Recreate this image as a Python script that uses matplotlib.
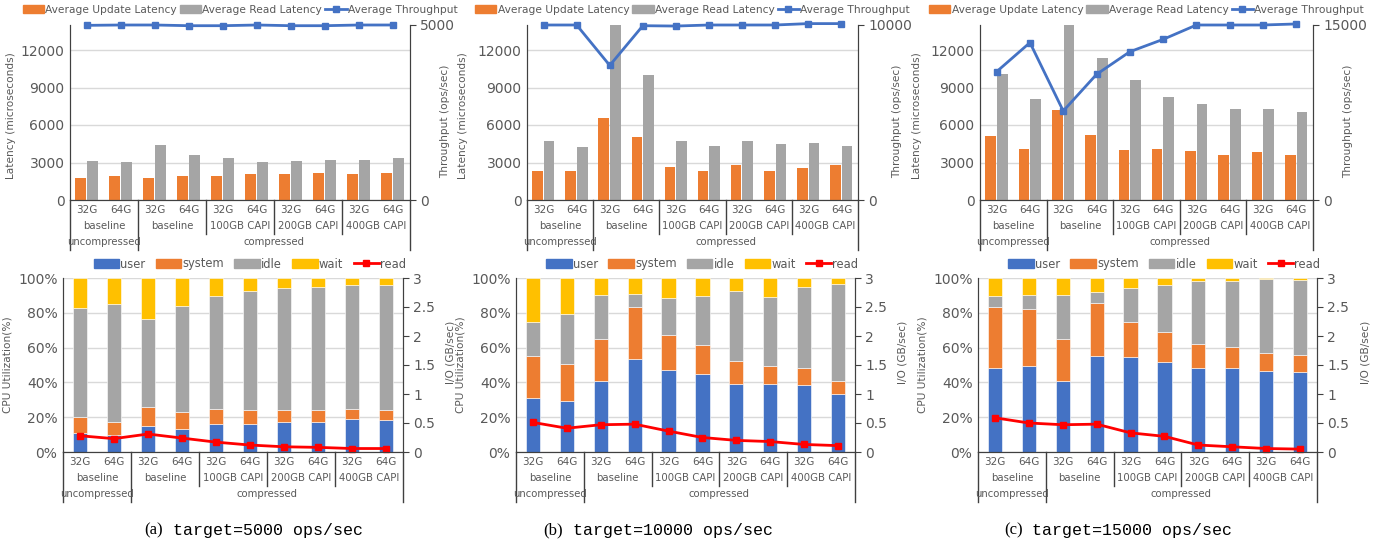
import numpy as np
import matplotlib
matplotlib.use("Agg")
import matplotlib.pyplot as plt
from matplotlib.lines import Line2D
from matplotlib.patches import Patch

plt.rcParams['font.family'] = ['DejaVu Sans']

# categories
sizes = ['32G', '64G'] * 5
groups = ['baseline', 'baseline', '100GB CAPI', '200GB CAPI', '400GB CAPI']
modes = ['uncompressed', 'compressed']
captions = ['(a)', '(b)', '(c)']
targets = ['target=5000 ops/sec', 'target=10000 ops/sec', 'target=15000 ops/sec']

# latency (microseconds) and throughput (ops/sec)
update_a = [1800, 1950, 1800, 1950, 1950, 2050, 2050, 2150, 2050, 2150]
read_a = [3100, 3050, 4400, 3600, 3350, 3050, 3100, 3200, 3200, 3350]
thr_a = [4990, 5000, 5000, 4980, 4980, 5000, 4980, 4980, 5000, 5000]

update_b = [2360, 2360, 6560, 5060, 2620, 2360, 2810, 2360, 2550, 2810]
read_b = [4710, 4230, 14000, 9990, 4710, 4310, 4710, 4470, 4530, 4300]
thr_b = [10000, 10000, 7690, 9960, 9940, 10000, 10000, 10000, 10080, 10080]

update_c = [5120, 4100, 7230, 5200, 4020, 4100, 3940, 3620, 3860, 3620]
read_c = [10070, 8090, 14200, 11380, 9640, 8225, 7710, 7310, 7310, 7045]
thr_c = [11000, 13490, 7630, 10770, 12710, 13770, 15000, 15000, 15000, 15090]

thr_max = [5000, 10000, 15000]

# CPU utilization (%) and read I/O (GB/sec)
user_a = [11, 9.6, 15, 13, 16.3, 16.3, 17.5, 17.5, 18.7, 18.3]
system_a = [9, 7.7, 11, 10, 8.5, 7.9, 6.7, 6.7, 6.1, 5.9]
idle_a = [62.7, 67.9, 50.5, 61, 64.6, 68.3, 70, 70.6, 71.2, 71.8]
wait_a = [17.3, 14.8, 23.5, 16, 10.6, 7.5, 5.8, 5.2, 4, 4]
io_a = [0.28, 0.23, 0.31, 0.24, 0.17, 0.12, 0.09, 0.08, 0.06, 0.06]

user_b = [31, 29.4, 41, 53.7, 47.1, 45, 39.2, 39.2, 38.7, 33.1]
system_b = [24.4, 21.4, 23.8, 29.6, 20.4, 16.5, 12.9, 10.4, 9.8, 7.9]
idle_b = [19.6, 28.4, 25.2, 7.5, 20.8, 27.9, 40.4, 39.2, 46.3, 55.3]
wait_b = [25, 20.8, 10, 9.2, 11.7, 10.6, 7.5, 11.2, 5.2, 3.7]
io_b = [0.51, 0.41, 0.47, 0.48, 0.36, 0.25, 0.20, 0.18, 0.13, 0.11]

user_c = [48, 49.6, 40.6, 55.4, 54.8, 51.7, 48, 48, 46.7, 46.2]
system_c = [35.5, 32.5, 24.2, 30.4, 20.2, 17, 14.3, 12.6, 10.4, 9.4]
idle_c = [5.9, 8.1, 25.2, 5.9, 19.2, 27.5, 35.7, 37.4, 42.1, 43.1]
wait_c = [10.6, 9.8, 10, 8.3, 5.8, 3.8, 2, 2, 0.8, 1.3]
io_c = [0.59, 0.50, 0.47, 0.48, 0.33, 0.27, 0.12, 0.09, 0.06, 0.05]

BLUE = '#4472C4'
ORANGE = '#ED7D31'
GRAY = '#A5A5A5'
YELLOW = '#FFC000'
RED = '#FF0000'
TXT = '#595959'
GRID = '#D9D9D9'

W, H = 1385, 548
fig = plt.figure(figsize=(W / 100, H / 100), dpi=100)


def rect(x0, x1, y0, y1):
    return [x0 / W, 1 - y1 / H, (x1 - x0) / W, (y1 - y0) / H]


def style(ax, ax2):
    ax.set_xlim(-0.5, 9.5)
    ax.set_xticks([])
    ax.set_axisbelow(True)
    ax.yaxis.grid(True, color=GRID, lw=1)
    for a in (ax, ax2):
        a.spines['top'].set_visible(False)
        a.spines['left'].set_color('#404040')
        a.spines['right'].set_color('#404040')
        a.spines['bottom'].set_color('#404040')
    ax.tick_params(axis='y', length=0, labelsize=10, labelcolor=TXT, pad=4)
    ax2.tick_params(axis='y', length=4, direction='out', color='#404040',
                    labelsize=10, labelcolor=TXT)


def cat_axis(ax, h):
    tr = ax.get_xaxis_transform()
    for i, s in enumerate(sizes):
        ax.text(i, -10 / h, s, transform=tr, ha='center', va='center',
                fontsize=7.5, color=TXT)
    for j, g in enumerate(groups):
        ax.text(2 * j + 0.5, -26 / h, g, transform=tr, ha='center', va='center',
                fontsize=7.3, color=TXT)
    ax.text(0.5, -42 / h, modes[0], transform=tr, ha='center', va='center',
            fontsize=7.3, color=TXT)
    ax.text(5.5, -42 / h, modes[1], transform=tr, ha='center', va='center',
            fontsize=7.3, color=TXT)
    for xv in (-0.5, 1.5, 9.5):
        ax.plot([xv, xv], [0, -50 / h], transform=tr, color='#404040',
                lw=1, clip_on=False)
    for xv in (3.5, 5.5, 7.5):
        ax.plot([xv, xv], [0, -34 / h], transform=tr, color='#404040',
                lw=1, clip_on=False)


x = np.arange(10)

# ---- top row: latency + throughput
top_x = [(70, 410), (527, 858), (980, 1313)]
top_lab = [(-0.16, 1.088), (-0.178, 1.103), (-0.174, 1.09)]
top_data = [(update_a, read_a, thr_a), (update_b, read_b, thr_b),
            (update_c, read_c, thr_c)]
for k, ((x0, x1), (upd, rd, thr)) in enumerate(zip(top_x, top_data)):
    ax = fig.add_axes(rect(x0, x1, 25, 200))
    ax.bar(x - 0.18, upd, 0.32, color=ORANGE)
    ax.bar(x + 0.17, rd, 0.32, color=GRAY)
    ax.set_ylim(0, 14000)
    ax.set_yticks(range(0, 14000, 3000))
    ax.set_ylabel('Latency (microseconds)', fontsize=7.6, color=TXT)
    ax.yaxis.set_label_coords(top_lab[k][0], 0.48)
    ax2 = ax.twinx()
    ax2.plot(x, thr, color=BLUE, lw=2, marker='s', ms=4.5, clip_on=False)
    ax2.set_ylim(0, thr_max[k])
    ax2.set_yticks([0, thr_max[k]])
    ax2.set_ylabel('Throughput (ops/sec)', fontsize=7.6, color=TXT)
    ax2.yaxis.set_label_coords(top_lab[k][1], 0.45)
    style(ax, ax2)
    cat_axis(ax, 175)
    handles = [Patch(color=ORANGE), Patch(color=GRAY),
               Line2D([], [], color=BLUE, lw=2, marker='s', ms=4.5)]
    ax.legend(handles, ['Average Update Latency', 'Average Read Latency',
                        'Average Throughput'],
              loc='center', bbox_to_anchor=(0.5, 1 + 15 / 175), ncol=3,
              frameon=False, fontsize=7.7, handlelength=2.0, handleheight=0.8,
              columnspacing=0.3, handletextpad=0.1, labelcolor=TXT)

# ---- bottom row: CPU utilization + read I/O
bot_x = [(63, 403), (516, 855), (978, 1317)]
bot_lab = [(-0.15, 1.124), (-0.15, 1.124), (-0.15, 1.127)]
bot_data = [(user_a, system_a, idle_a, wait_a, io_a),
            (user_b, system_b, idle_b, wait_b, io_b),
            (user_c, system_c, idle_c, wait_c, io_c)]
for k, ((x0, x1), segs) in enumerate(zip(bot_x, bot_data)):
    ax = fig.add_axes(rect(x0, x1, 278, 452))
    base = np.zeros(10)
    for vals, col in zip(segs[:4], (BLUE, ORANGE, GRAY, YELLOW)):
        ax.bar(x, vals, 0.42, bottom=base, color=col, edgecolor='white', lw=0.4)
        base += np.array(vals)
    ax.set_ylim(0, 100)
    ax.set_yticks(range(0, 101, 20))
    ax.set_yticklabels([f'{v}%' for v in range(0, 101, 20)])
    ax.set_ylabel('CPU Utilization(%)', fontsize=7.6, color=TXT)
    ax.yaxis.set_label_coords(bot_lab[k][0], 0.5)
    ax2 = ax.twinx()
    ax2.plot(x, segs[4], color=RED, lw=2, marker='s', ms=4.5, clip_on=False)
    ax2.set_ylim(0, 3)
    ax2.set_yticks([0, 0.5, 1, 1.5, 2, 2.5, 3])
    ax2.set_yticklabels(['0', '0.5', '1', '1.5', '2', '2.5', '3'])
    ax2.set_ylabel('I/O (GB/sec)', fontsize=7.6, color=TXT)
    ax2.yaxis.set_label_coords(bot_lab[k][1], 0.57)
    style(ax, ax2)
    cat_axis(ax, 174)
    handles = [Patch(color=BLUE), Patch(color=ORANGE), Patch(color=GRAY),
               Patch(color=YELLOW),
               Line2D([], [], color=RED, lw=2, marker='s', ms=4.5)]
    ax.legend(handles, ['user', 'system', 'idle', 'wait', 'read'],
              loc='center', bbox_to_anchor=(0.55, 1 + 14 / 174), ncol=5,
              frameon=False, fontsize=8.3, handlelength=2.2, handleheight=0.8,
              columnspacing=0.9, handletextpad=0.1, labelcolor=TXT)

# ---- captions
cap_pos = [(163, 173), (563, 573), (1023, 1032)]
for (xa, xb), c, t in zip(cap_pos, captions, targets):
    fig.text(xa / W, 1 - 530 / H, c, ha='right', va='center', fontsize=12,
             family='Liberation Serif')
    fig.text(xb / W, 1 - 530 / H, t, ha='left', va='center', fontsize=12,
             family='Liberation Mono')

fig.savefig('out.png', dpi=100)
